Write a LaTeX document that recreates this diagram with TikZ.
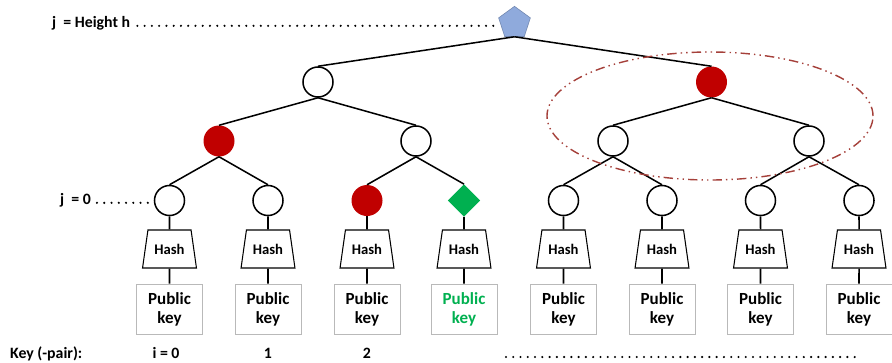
\documentclass[tikz,border=0pt]{standalone}
\usepackage{fontspec}
\setmainfont{Carlito}
\usetikzlibrary{shapes.geometric, positioning}

\definecolor{keyred}{HTML}{C00000}
\definecolor{authgreen}{HTML}{00B050}
\definecolor{rootblue}{HTML}{8FAADC}
\definecolor{ringred}{HTML}{A5403A}

\begin{document}
\begin{tikzpicture}[
    x=0.03cm, y=-0.03cm,
    nd/.style={circle, draw=black, line width=1.3pt, fill=white, minimum size=0.9cm, inner sep=0pt},
    used/.style={circle, fill=keyred, minimum size=0.93cm, inner sep=0pt},
    hash/.style={trapezium, draw, line width=0.9pt, trapezium angle=70, trapezium stretches=true, minimum width=1.62cm, minimum height=1.14cm, inner sep=0pt, font=\fontsize{12.5}{14}\selectfont\bfseries},
    pk/.style={draw=gray!55, line width=0.8pt, minimum width=1.98cm, minimum height=1.5cm, inner sep=0pt, align=center, font=\fontsize{14.5}{16}\selectfont\bfseries},
    lbl/.style={font=\fontsize{13.5}{15}\selectfont\bfseries, inner sep=0pt},
    link/.style={line width=1.3pt},
    dotline/.style={line width=2pt, line cap=round, dash pattern=on 0pt off 6.2pt},
]
\useasboundingbox (0,0) rectangle (892,363);

% Root
\node[regular polygon, regular polygon sides=5, draw=rootblue!80!black, line width=0.5pt, fill=rootblue, minimum size=1cm, inner sep=0pt] (root) at (514.5,23) {};

% Level j = h-1
\node[nd] (a1) at (318,82) {};
\node[used] (a2) at (711.5,82) {};

% Level j = 1
\node[used] (b1) at (219,141) {};
\node[nd] (b2) at (416,141) {};
\node[nd] (b3) at (613,141) {};
\node[nd] (b4) at (809,141) {};

% Leaves, j = 0
\node[nd] (c1) at (169.5,200.5) {};
\node[nd] (c2) at (268,200.5) {};
\node[used] (c3) at (367,200.5) {};
\node[diamond, fill=authgreen, minimum size=0.97cm, inner sep=0pt] (c4) at (464,200.5) {};
\node[nd] (c5) at (563.5,200.5) {};
\node[nd] (c6) at (662,200.5) {};
\node[nd] (c7) at (760.5,200.5) {};
\node[nd] (c8) at (859,200.5) {};

% Hash boxes
\node[hash] (h1) at (169.5,249) {Hash};
\node[hash] (h2) at (268,249) {Hash};
\node[hash] (h3) at (367,249) {Hash};
\node[hash] (h4) at (464,249) {Hash};
\node[hash] (h5) at (563.5,249) {Hash};
\node[hash] (h6) at (662,249) {Hash};
\node[hash] (h7) at (760.5,249) {Hash};
\node[hash] (h8) at (859,249) {Hash};

% Public keys
\node[pk] (k1) at (169.5,309) {Public\\key};
\node[pk] (k2) at (268,309) {Public\\key};
\node[pk] (k3) at (367,309) {Public\\key};
\node[pk, text=authgreen] (k4) at (464,309) {Public\\key};
\node[pk] (k5) at (563.5,309) {Public\\key};
\node[pk] (k6) at (662,309) {Public\\key};
\node[pk] (k7) at (760.5,309) {Public\\key};
\node[pk] (k8) at (859,309) {Public\\key};

% Tree edges
\draw[link] (root.south) -- (a1.north);
\draw[link] (root.south) -- (a2.north);
\draw[link] (a1.south) -- (b1.north);
\draw[link] (a1.south) -- (b2.north);
\draw[link] (a2.south) -- (b3.north);
\draw[link] (a2.south) -- (b4.north);
\draw[link] (b1.south) -- (c1.north);
\draw[link] (b1.south) -- (c2.north);
\draw[link] (b2.south) -- (c3.north);
\draw[link] (b2.south) -- (c4.north);
\draw[link] (b3.south) -- (c5.north);
\draw[link] (b3.south) -- (c6.north);
\draw[link] (b4.south) -- (c7.north);
\draw[link] (b4.south) -- (c8.north);

% Leaf -> hash -> key
\draw[link] (c1) -- (h1) (h1) -- (k1);
\draw[link] (c2) -- (h2) (h2) -- (k2);
\draw[link] (c3) -- (h3) (h3) -- (k3);
\draw[link] (c4) -- (h4) (h4) -- (k4);
\draw[link] (c5) -- (h5) (h5) -- (k5);
\draw[link] (c6) -- (h6) (h6) -- (k6);
\draw[link] (c7) -- (h7) (h7) -- (k7);
\draw[link] (c8) -- (h8) (h8) -- (k8);

% Subtree ring
\node[ellipse, draw=ringred, line width=1.2pt, dash pattern=on 8pt off 3.5pt on 1.2pt off 3.5pt on 1.2pt off 3.5pt, minimum width=9.78cm, minimum height=3.84cm] (ring) at (710,116) {};

% Level labels
\node[lbl, anchor=base west] (lvh) at (52,27) {j~ = Height h};
\draw[dotline] ([xshift=6pt,yshift=1pt]lvh.base east) -- ([yshift=1pt]lvh.base east -| root.west);
\node[lbl, anchor=base west] (lv0) at (60,204) {j~ = 0};
\draw[dotline] ([xshift=5pt,yshift=1pt]lv0.base east) -- ([xshift=-3pt,yshift=1pt]lv0.base east -| c1.west);

% Key indices
\node[lbl, anchor=base west] (kp) at (10,358) {Key (-pair):};
\node[lbl, anchor=base] (i0) at (166,358) {i = 0};
\node[lbl, anchor=base] (i1) at (268,358) {1};
\node[lbl, anchor=base] (i2) at (367,358) {2};
\coordinate (dl) at (506,357);
\coordinate (dr) at (858,357);
\draw[dotline] (dl) -- (dr);

\end{tikzpicture}
\end{document}
